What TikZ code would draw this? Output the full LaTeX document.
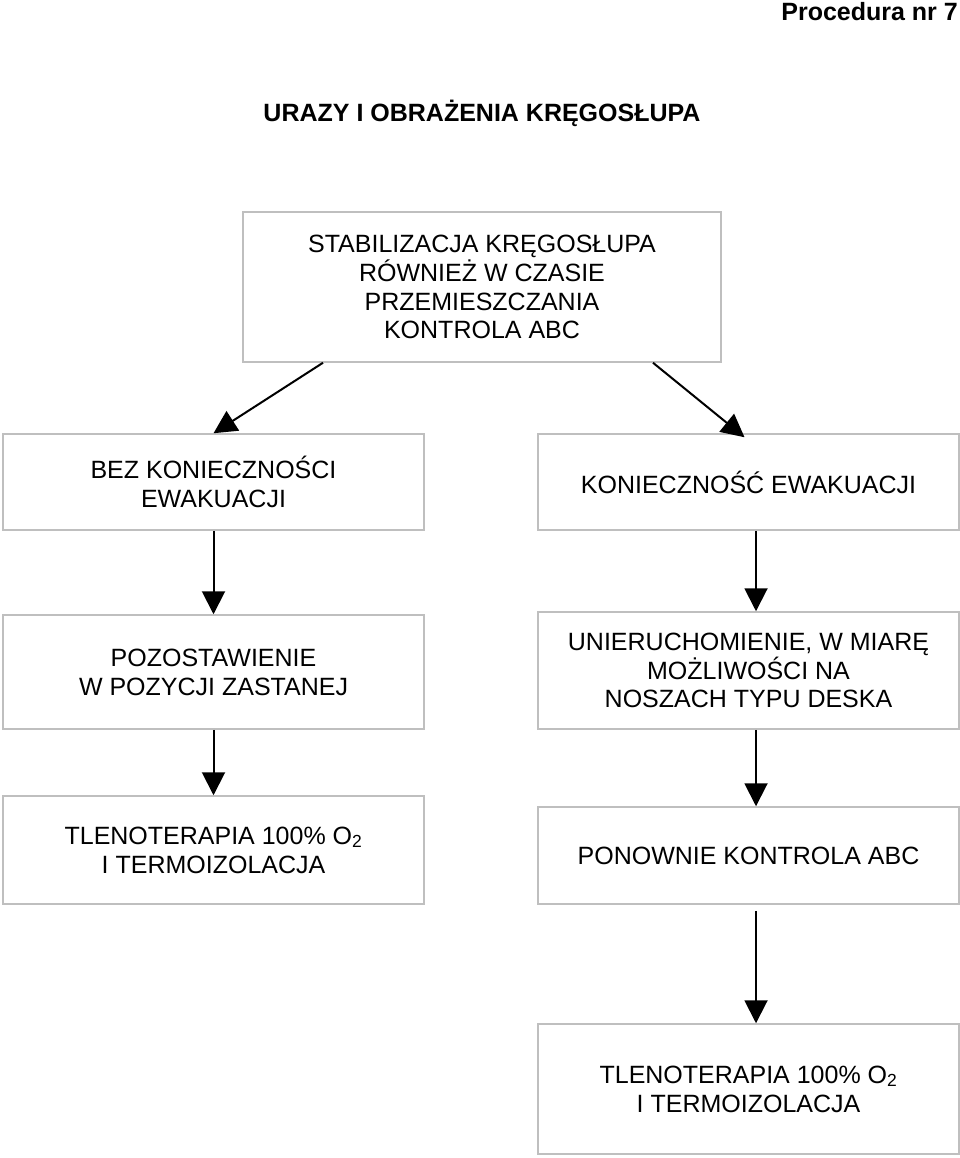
\documentclass[tikz,border=0pt]{standalone}
\usepackage{fontspec}
\setmainfont{Liberation Sans}
\usetikzlibrary{arrows.meta,positioning}
\definecolor{boxline}{gray}{0.75}
\tikzset{
  stepbox/.style={draw=boxline, line width=1.5pt, inner sep=0pt,
    align=center, font=\fontsize{25}{28.8}\selectfont},
  heading/.style={font=\bfseries\fontsize{25}{28.8}\selectfont, inner sep=0pt},
  flow arrow/.style={-{Triangle[length=23pt,width=23pt]}, line width=2pt}
}

\begin{document}
\begin{tikzpicture}[x=1pt,y=-1pt]
  \useasboundingbox (0,0) rectangle (960,1158);

  \node[heading,anchor=east] (proc) at (958,12) {Procedura nr 7};
  \node[heading] (title) at (482,113) {URAZY I OBRAŻENIA KRĘGOSŁUPA};

  \node[stepbox,minimum width=478pt,minimum height=150pt] (stab) at (482,287)
    {STABILIZACJA KRĘGOSŁUPA\\RÓWNIEŻ W CZASIE\\PRZEMIESZCZANIA\\KONTROLA ABC};

  \node[stepbox,minimum width=421pt,minimum height=96pt] (bez) at (213.5,482)
    {BEZ KONIECZNOŚCI\\EWAKUACJI};
  \node[stepbox,minimum width=421pt,minimum height=96pt] (kon) at (748.5,482)
    {KONIECZNOŚĆ EWAKUACJI};

  \node[stepbox,minimum width=421pt,minimum height=114pt] (poz) at (213.5,672)
    {POZOSTAWIENIE\\W POZYCJI ZASTANEJ};
  \node[stepbox,minimum width=421pt,minimum height=117pt] (uni) at (748.5,670.5)
    {UNIERUCHOMIENIE, W MIARĘ\\MOŻLIWOŚCI NA\\NOSZACH TYPU DESKA};

  \node[stepbox,minimum width=421pt,minimum height=108pt] (tlenA) at (213.5,850)
    {TLENOTERAPIA 100\% O\textsubscript{2}\\I TERMOIZOLACJA};
  \node[stepbox,minimum width=421pt,minimum height=97pt] (pon) at (748.5,855.5)
    {PONOWNIE KONTROLA ABC};

  \node[stepbox,minimum width=421pt,minimum height=130pt] (tlenB) at (748.5,1089)
    {TLENOTERAPIA 100\% O\textsubscript{2}\\I TERMOIZOLACJA};

  % connectors
  \draw[flow arrow] ([xshift=-159pt]stab.south) -- (bez.north);
  \draw[flow arrow] ([xshift=171pt]stab.south) -- ([xshift=-4pt,yshift=-4pt]kon.north);
  \draw[flow arrow] (bez.south) -- (poz.north);
  \draw[flow arrow] ([xshift=7.5pt]kon.south) -- ([xshift=7.5pt]uni.north);
  \draw[flow arrow] (poz.south) -- (tlenA.north);
  \draw[flow arrow] ([xshift=7.5pt]uni.south) -- ([xshift=7.5pt]pon.north);
  \draw[flow arrow,shorten <=6pt] ([xshift=7.5pt]pon.south) -- ([xshift=7.5pt]tlenB.north);
\end{tikzpicture}
\end{document}
